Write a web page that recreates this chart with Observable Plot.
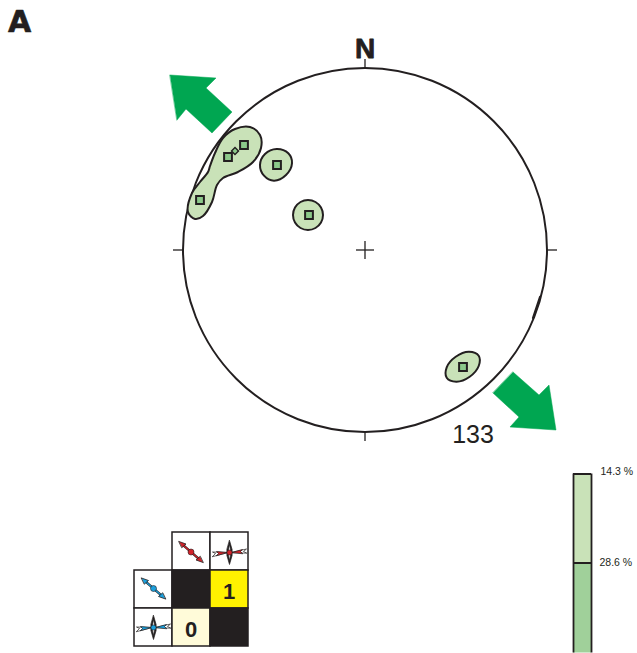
<!DOCTYPE html>
<html>
<head>
<meta charset="utf-8">
<script src="https://cdn.jsdelivr.net/npm/d3@7"></script>
<script src="https://cdn.jsdelivr.net/npm/@observablehq/plot@0.6"></script>
<style>html,body{margin:0;padding:0;background:#fff;overflow:hidden}svg{display:block}</style>
</head>
<body>
<div id="chart"></div>
<script>
// Stereonet plane units: origin at net centre, net radius 182.
const netRadius = [182];
const poleEast  = [-121, -137, -165, -88, -56, 98];
const poleNorth = [105, 93, 50, 85, 35, -117];
const oddPole = [[-130, 99]];

const contourA = [[-115,123],[-105,115],[-104,102],[-112,88],[-127,78],[-142,72],[-148,65],[-153,48],[-162,34],[-170,31],[-177,38],[-173,57],[-165,68],[-157,78],[-155,84],[-150,97],[-142,112],[-130,121]];
const contourB = [[-88.3,101],[-76.7,96.7],[-73,86.7],[-79,75],[-91,69.3],[-101,74.3],[-105,85],[-100,96]];
const contourC = [[-57,50],[-49.5,48],[-44,42.5],[-42,35],[-44,27.5],[-49.5,22],[-57,20],[-64.5,22],[-70,27.5],[-72,35],[-70,42.5],[-64.5,48]];
const contourD = [[113.7,-105.7],[113.7,-116],[104.7,-126.7],[91.3,-131.7],[81.7,-127.7],[81.7,-117.3],[90.7,-106.7],[104,-101.7]];

const arrowNW = [[-195,175],[-149,172],[-159,162],[-133,138],[-153,117],[-179,141],[-188,130]];
const arrowSE = [[148,-122],[174,-145],[184,-135],[191,-180],[145,-177],[154,-167],[128,-143]];

const netTicks = [[0,182,0,191],[0,-182,0,-191],[-182,0,-192,0],[182,0,192,0],[-9,0,9,0],[0,-9,0,9]];
const edgeMark = [[175,-47],[168,-68]];

// Kinematic matrix
const cols = [-230.5,-192.5,-154.5,-116.5];
const rows = [-282.5,-320.5,-358.5,-396.5];
const cellCol   = [1, 2, 0, 1, 2, 0, 1, 2];
const cellRow   = [0, 0, 1, 1, 1, 2, 2, 2];
const cellFill  = ["#fff","#fff","#fff","#231f20","#fff200","#fff","#fffbd9","#231f20"];
const cellText  = [["1",-136,-348.5],["0",-174,-386.5]];

const diagCentres = [[-174,-302,"#d2232a"],[-211.5,-338.5,"#1b9fdc"]];
const crossCentres = [[-135.5,-302.5,"#d2232a"],[-211.5,-377.5,"#1b9fdc"]];

// Legend
const legendBands = [[-224,-313,"#c9e2b8"],[-313,-403,"#a0d09a"]];
const legendX = [208.5, 226.5];
const legendLabels = [["14.3 %",235.5,-224.5],["28.6 %",234.5,-315.5]];

const dark = "#231f20", green = "#00a651", paleGreen = "#c9e2b8", midGreen = "#8cc98a";

const closed = (pts, id) => pts.map(([x, y]) => ({x, y, id}));
const contours = [...closed(contourA,"a"),...closed(contourB,"b"),...closed(contourC,"c"),...closed(contourD,"d")];
const arrows = [...closed(arrowNW,"nw"),...closed(arrowSE,"se")];
const poles = poleEast.map((x, i) => ({x, y: poleNorth[i]}));
const cells = cellCol.map((c, i) => ({x1: cols[c], x2: cols[c+1], y1: rows[cellRow[i]], y2: rows[cellRow[i]+1], fill: cellFill[i]}));

const spindle = [[0,12],[2.6,3],[2.6,-3],[0,-12],[-2.6,-3],[-2.6,3]];
const spindleCore = [[0,8],[1,3],[1,-3],[0,-8],[-1,-3],[-1,3]];
const wingL = [[-2,0],[-17,0.5],[-14,-1],[-17,-4]];
const wingR = [[2,0],[17,3.5],[14,1],[17,-0.5]];
const fillL = [[-2,0],[-13,1],[-11,-1],[-13,-3]];
const fillR = [[2,0],[13,3],[11,1],[13,-1]];
const tipA = [[-12,10.5],[-5,8],[-9,4.5]];
const tipB = [[12,-10.5],[5,-8],[9,-4.5]];
const glyphParts = [];
crossCentres.forEach(([cx, cy, col], k) => {
  const add = (pts, name, fill) => pts.forEach(([x, y]) => glyphParts.push({x: cx + x, y: cy + y, id: k + name, fill}));
  add(wingL, "wl", "#fff"); add(wingR, "wr", "#fff");
  add(fillL, "fl", col); add(fillR, "fr", col);
  add(spindle, "s", dark); add(spindleCore, "c", "#fff");
});
const tipParts = [];
diagCentres.forEach(([cx, cy, col], k) => {
  const add = (pts, name) => pts.forEach(([x, y]) => tipParts.push({x: cx + x, y: cy + y, id: k + name, fill: col}));
  add(tipA, "a"); add(tipB, "b");
});
const diagLinks = diagCentres.map(([cx, cy, col]) => ({x1: cx-9, y1: cy+7.8, x2: cx+9, y2: cy-7.8, col}));

const plot = Plot.plot({
  width: 637, height: 653, margin: 0,
  x: {domain: [-365, 272], range: [-0.5, 636.5], axis: null},
  y: {domain: [-403, 250], range: [652.5, -0.5], axis: null},
  r: {type: "linear", domain: [0, 182], range: [0, 182]},
  marks: [
    Plot.line(arrows, {x: "x", y: "y", z: "id", curve: "linear-closed", fill: green, stroke: green, strokeWidth: 0.5}),
    Plot.dot(netRadius, {x: () => 0, y: () => 0, r: d => d, stroke: dark, strokeWidth: 2, fill: "none"}),
    Plot.line(edgeMark, {x: d => d[0], y: d => d[1], stroke: dark, strokeWidth: 2.2}),
    Plot.link(netTicks, {x1: d => d[0], y1: d => d[1], x2: d => d[2], y2: d => d[3], stroke: dark, strokeWidth: 1.3}),
    Plot.line(contours, {x: "x", y: "y", z: "id", curve: "catmull-rom-closed", fill: paleGreen, stroke: dark, strokeWidth: 2}),
    Plot.dot(poles, {x: "x", y: "y", symbol: "square", r: 4.4, fill: midGreen, stroke: dark, strokeWidth: 2}),
    Plot.dot(oddPole, {x: d => d[0], y: d => d[1], symbol: "square", r: 2.8, rotate: 45, fill: midGreen, stroke: dark, strokeWidth: 1.4}),
    Plot.text(["A"], {x: () => -357, y: () => 218, textAnchor: "start", lineAnchor: "bottom", fontFamily: "DejaVu Sans", fontWeight: "bold", fontSize: 30, fill: dark, stroke: dark, strokeWidth: 0.6}),
    Plot.text(["N"], {x: () => 0, y: () => 192, lineAnchor: "bottom", fontFamily: "Liberation Sans", fontWeight: "bold", fontSize: 28, fill: dark, stroke: dark, strokeWidth: 0.8}),
    Plot.text(["133"], {x: () => 108, y: () => -193, lineAnchor: "bottom", fontFamily: "Liberation Sans", fontSize: 25, fill: dark}),
    Plot.rect(cells, {x1: "x1", x2: "x2", y1: "y1", y2: "y2", fill: "fill", stroke: dark, strokeWidth: 1.5}),
    Plot.text(cellText, {x: d => d[1], y: d => d[2], text: d => d[0], lineAnchor: "bottom", fontFamily: "Liberation Sans", fontWeight: "bold", fontSize: 22, fill: dark}),
    Plot.link(diagLinks, {x1: "x1", y1: "y1", x2: "x2", y2: "y2", stroke: dark, strokeWidth: 2.4}),
    Plot.link(diagLinks, {x1: "x1", y1: "y1", x2: "x2", y2: "y2", stroke: "col", strokeWidth: 1.2}),
    Plot.line(tipParts, {x: "x", y: "y", z: "id", curve: "linear-closed", fill: "fill", stroke: dark, strokeWidth: 0.8}),
    Plot.dot(diagCentres, {x: d => d[0], y: d => d[1], r: 3, fill: d => d[2], stroke: dark, strokeWidth: 0.6}),
    Plot.line(glyphParts, {x: "x", y: "y", z: "id", curve: "linear-closed", fill: "fill", stroke: dark, strokeWidth: 0.7}),
    Plot.dot(crossCentres, {x: d => d[0], y: d => d[1], r: 2.6, fill: d => d[2], stroke: dark, strokeWidth: 0.6}),
    Plot.rect(legendBands, {x1: () => legendX[0], x2: () => legendX[1], y1: d => d[0], y2: d => d[1], fill: d => d[2]}),
    Plot.ruleX(legendX, {y1: -224, y2: -403, stroke: dark, strokeWidth: 1.8}),
    Plot.ruleY([-224, -313], {x1: legendX[0], x2: legendX[1], stroke: dark, strokeWidth: 2}),
    Plot.text(legendLabels, {x: d => d[1], y: d => d[2], text: d => d[0], textAnchor: "start", lineAnchor: "bottom", fontFamily: "Liberation Sans", fontSize: 10.5, fill: dark})
  ]
});
document.getElementById("chart").append(plot);
</script>
</body>
</html>
